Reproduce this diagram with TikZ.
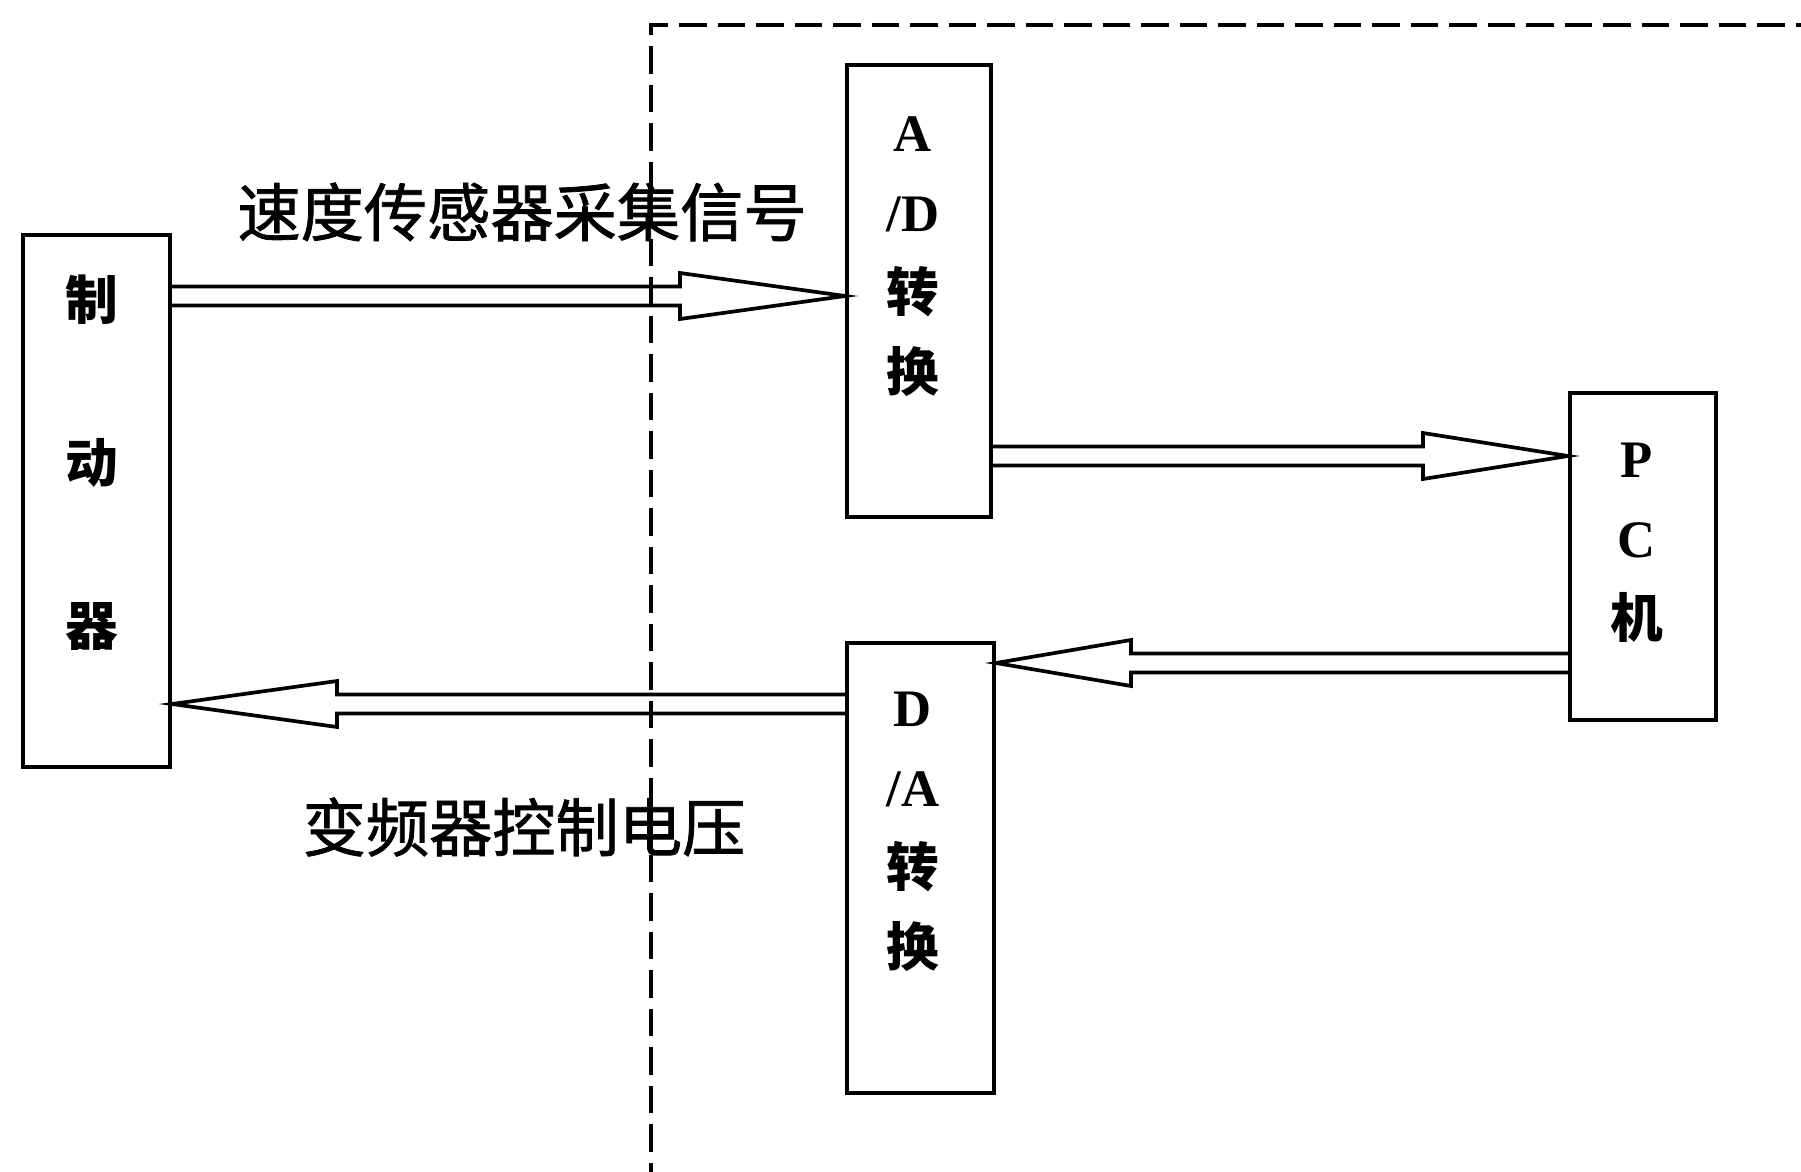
\documentclass[tikz,border=0pt]{standalone}
\usepackage{fontspec}
\setmainfont{Liberation Serif}
\newfontfamily\cjk{Noto Sans CJK SC}
\newfontfamily\cjklbl[FakeBold=1.2]{Noto Sans CJK SC}
\usepackage{tikz}
\usetikzlibrary{calc}

\newcommand{\zh}[1]{{\cjk #1}}

\begin{document}
\begin{tikzpicture}[
		x=0.02cm, y=-0.02cm,
		block/.style={
			rectangle,
			draw,
			line width=2.3pt,
			inner sep=0pt
		},
		blocktext/.style={
			align=center,
			inner sep=0pt,
			font=\fontsize{30}{45.5}\selectfont\bfseries
		},
		sig/.style={
			font=\cjklbl\fontsize{36}{40}\selectfont,
			inner sep=0pt
		},
		frame/.style={
			line width=2pt,
			dash pattern=on 0.55cm off 0.22cm
		},
		hollow/.style={
			line width=2.1pt,
			line join=miter,
			to path={
				(\tikztostart) coordinate (hs)
				($(\tikztotarget)!#1!(\tikztostart)$) coordinate (hb)
				($(hs)!0.19cm!90:(hb)$) -- ($(hb)!0.19cm!-90:(hs)$)
				-- ($(hb)!0.46cm!-90:(hs)$) -- (\tikztotarget)
				-- ($(hb)!0.46cm!90:(hs)$) -- ($(hb)!0.19cm!90:(hs)$)
				-- ($(hs)!0.19cm!-90:(hb)$)
			}
		},
		hollow/.default=3cm
		]
		
		\useasboundingbox (0,0) rectangle (1801,1172);
		
		% Nodes
		\node[block, minimum width=2.94cm, minimum height=10.64cm] (brake) at (96.5,501) {};
		\node[blocktext, font=\cjk\fontsize{30}{92.8}\selectfont\bfseries] (braketxt) at (92,463) {制\\动\\器};
		
		\node[block, minimum width=2.88cm, minimum height=9.04cm] (ad) at (919,291) {};
		\node[blocktext] (adtxt) at (913,257) {A\\/D\\\zh{转}\\\zh{换}};
		
		\node[block, minimum width=2.94cm, minimum height=9.0cm] (da) at (920.5,868) {};
		\node[blocktext] (datxt) at (913,832) {D\\/A\\\zh{转}\\\zh{换}};
		
		\node[block, minimum width=2.92cm, minimum height=6.54cm] (pc) at (1643,556.5) {};
		\node[blocktext] (pctxt) at (1637,543) {P\\C\\\zh{机}};
		
		\node[sig] (speedlbl) at (522,212) {速度传感器采集信号};
		\node[sig] (voltlbl) at (524,827) {变频器控制电压};
		
		% Arrow ends
		\coordinate (adin) at ([yshift=-0.1cm]ad.west);
		\coordinate (pcin) at ([yshift=-1.3cm]pc.north west);
		\coordinate (pcout) at ([yshift=1.18cm]pc.south west);
		\coordinate (dain) at (da.east |- pcout);
		\coordinate (daout) at ([yshift=-1.26cm]da.north west);
		\coordinate (brakein) at (brake.east |- daout);
		
		% Arrows
		\draw[hollow=3.3cm] (brake.east |- adin) to (adin);
		\draw[hollow=2.9cm] (ad.east |- pcin) to (pcin);
		\draw[hollow=2.7cm] (pcout) to (dain);
		\draw[hollow=3.3cm] (daout) to (brakein);
		
		% Dashed frame
		\coordinate (fbot) at (651,1190);
		\coordinate (fright) at (1820,25);
		\draw[frame] (fbot) |- (fright);
		
	\end{tikzpicture}
\end{document}
